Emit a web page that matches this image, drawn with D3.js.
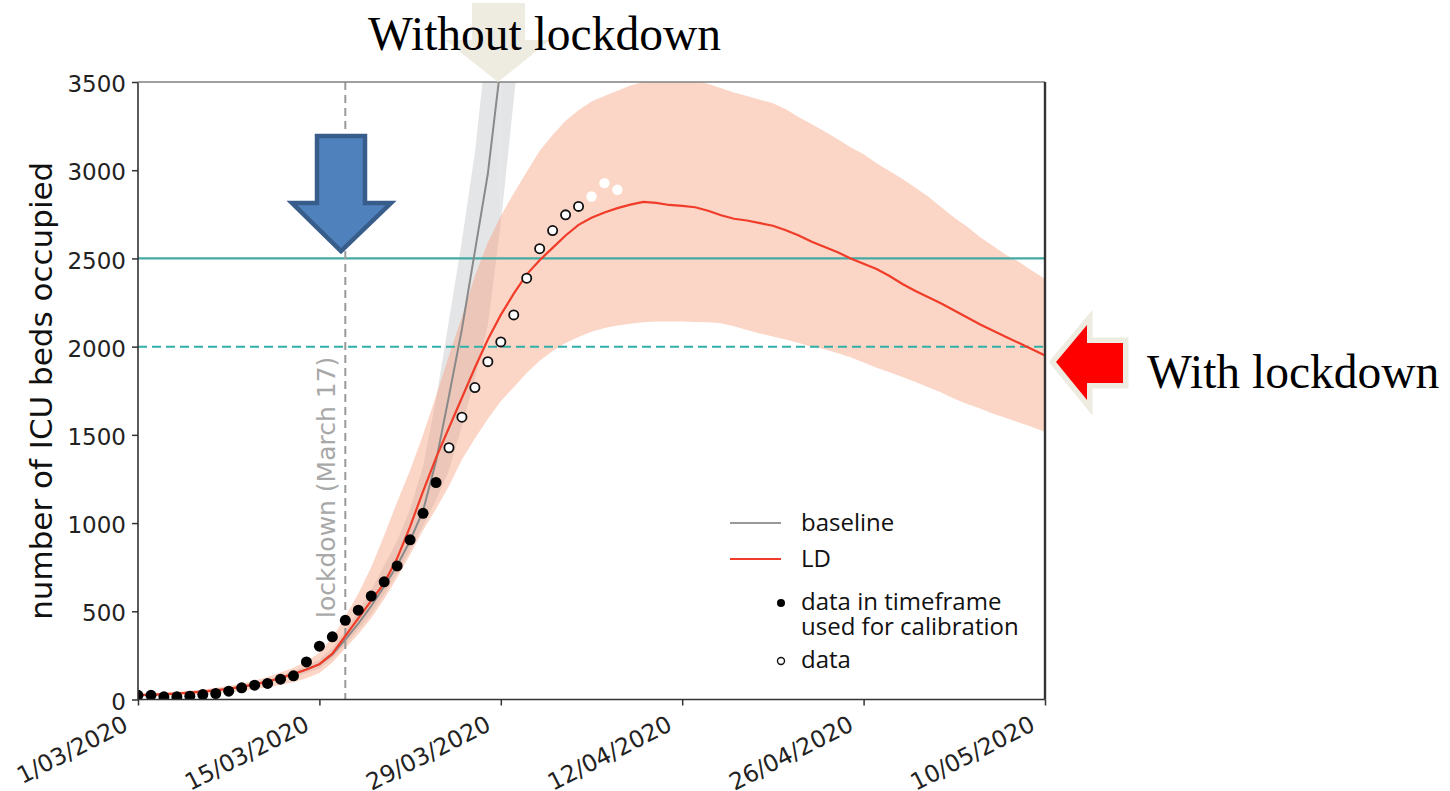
<!DOCTYPE html>
<html>
<head>
<meta charset="utf-8">
<script src="https://cdn.jsdelivr.net/npm/d3@7"></script>
<style>
  html, body { margin: 0; padding: 0; background: #fff; }
  svg { display: block; }
</style>
</head>
<body>
<svg id="chart" width="1450" height="791"></svg>
<script>
// ---------------- DATA ----------------
const startDate = new Date(2020, 2, 1); // 1 March 2020, day index 0
const endDate = new Date(2020, 4, 10);
const xTickLabels = ["1/03/2020", "15/03/2020", "29/03/2020", "12/04/2020", "26/04/2020", "10/05/2020"];
const yTicks = [0, 500, 1000, 1500, 2000, 2500, 3000, 3500];

// LD model (red line), days 0..70
const ldMean = [25, 27, 30, 34, 39, 45, 52, 61, 72, 86, 102, 122, 145, 170, 200, 260, 360, 460, 560, 660,
  800, 980, 1180, 1370, 1540, 1710, 1880, 2040, 2180, 2300, 2410, 2490, 2560, 2630, 2690, 2730, 2760, 2785, 2805, 2820,
  2815, 2803, 2798, 2790, 2770, 2745, 2725, 2715, 2700, 2685, 2660, 2630, 2595, 2565, 2535, 2500, 2470, 2440, 2400, 2355,
  2315, 2280, 2245, 2205, 2165, 2125, 2090, 2055, 2020, 1985, 1950];
const ldUpper = [32, 35, 39, 44, 50, 57, 66, 77, 90, 107, 128, 153, 180, 215, 265, 350, 470, 600, 750, 930,
  1120, 1300, 1500, 1720, 1950, 2170, 2400, 2590, 2740, 2870, 2990, 3110, 3200, 3280, 3340, 3390, 3420, 3450, 3480, 3500,
  3510, 3515, 3515, 3505, 3490, 3465, 3440, 3420, 3400, 3380, 3345, 3300, 3260, 3220, 3175, 3130, 3090, 3040, 2995, 2950,
  2900, 2850, 2790, 2730, 2680, 2620, 2570, 2520, 2480, 2430, 2385];
const ldLower = [15, 17, 19, 22, 26, 30, 35, 41, 49, 58, 70, 83, 98, 120, 150, 210, 290, 370, 460, 570,
  690, 820, 960, 1080, 1210, 1360, 1480, 1590, 1690, 1770, 1850, 1920, 1975, 2020, 2055, 2085, 2105, 2120, 2130, 2138,
  2142, 2143, 2142, 2140, 2138, 2133, 2115, 2095, 2075, 2058, 2040, 2020, 2000, 1985, 1963, 1940, 1910, 1880, 1855, 1828,
  1800, 1770, 1740, 1705, 1675, 1650, 1620, 1595, 1570, 1545, 1518];

// Baseline model (grey line), days 0..28
const baseMean = [25, 27, 30, 34, 39, 45, 52, 61, 72, 86, 102, 122, 145, 170, 200, 255, 340, 430, 530, 640,
  760, 900, 1070, 1350, 1720, 2100, 2540, 2980, 3600];
const baseUpper = [28, 30, 33, 38, 43, 50, 58, 68, 80, 96, 114, 136, 162, 190, 225, 290, 390, 500, 620, 760,
  900, 1080, 1320, 1700, 2150, 2600, 3100, 3780, 4400];
const baseLower = [22, 24, 27, 30, 35, 40, 46, 54, 64, 76, 90, 108, 128, 150, 176, 232, 312, 395, 485, 595,
  715, 845, 985, 1130, 1300, 1550, 1820, 2120, 2700, 3400, 4100];

// Observed data
const calibStartDay = 0;   // filled points: days 0..23
const calibData = [24, 24, 15, 15, 19, 28, 34, 47, 66, 81, 91, 115, 134, 213, 302, 355, 449, 506, 586, 667,
  757, 905, 1055, 1230];
const openStartDay = 24;   // open points: days 24..34
const openData = [1427, 1600, 1768, 1915, 2027, 2180, 2388, 2555, 2658, 2747, 2795];
const whiteStartDay = 35;  // white points: days 35..37
const whiteData = [2851, 2927, 2889];

const lockdownDate = new Date(2020, 2, 17);
const capacityLines = [2500, 2000];

// ---------------- CHART ----------------
const svg = d3.select("#chart");
const L = 138, R = 1045, T = 82, B = 699.5;
const day = i => d3.timeDay.offset(startDate, i);

const x = d3.scaleTime().domain([startDate, endDate]).range([L, R]);
const y = d3.scaleLinear().domain([0, 3500]).range([B, T]);

svg.append("rect").attr("width", 1450).attr("height", 791).attr("fill", "#fff");

svg.append("clipPath").attr("id", "plotclip")
  .append("rect").attr("x", L).attr("y", T).attr("width", R - L).attr("height", B - T);

const plot = svg.append("g").attr("clip-path", "url(#plotclip)");

// baseline band
const baseBand = baseUpper.map((hi, i) => ({ i, lo: baseLower[i], hi }));
plot.append("path")
  .datum(baseBand)
  .attr("fill", "#e4e5e7")
  .attr("d", d3.area().x(d => x(day(d.i))).y0(d => y(d.lo)).y1(d => y(d.hi)));
// right edge of baseline band (lower bound continues above the plot)
plot.append("path")
  .datum(baseLower.map((v, i) => ({ i, v })).slice(baseUpper.length - 1))
  .attr("fill", "#e4e5e7")
  .attr("d", d3.area().x(d => x(day(d.i))).y0(d => y(d.v)).y1(() => y(5000)));

// LD band
plot.append("path")
  .datum(ldMean.map((m, i) => ({ i, lo: ldLower[i], hi: ldUpper[i] })))
  .attr("fill", "rgb(246,162,128)")
  .attr("fill-opacity", 0.45)
  .attr("d", d3.area().x(d => x(day(d.i))).y0(d => y(d.lo)).y1(d => y(d.hi)));

// capacity lines
plot.append("line")
  .attr("x1", L).attr("x2", R).attr("y1", y(capacityLines[0])).attr("y2", y(capacityLines[0]))
  .attr("stroke", "#45aaa4").attr("stroke-width", 2.2);
plot.append("line")
  .attr("x1", L).attr("x2", R).attr("y1", y(capacityLines[1])).attr("y2", y(capacityLines[1]))
  .attr("stroke", "#2fb0a8").attr("stroke-width", 2).attr("stroke-dasharray", "9,5");

// lockdown line
plot.append("line")
  .attr("x1", x(lockdownDate)).attr("x2", x(lockdownDate)).attr("y1", T).attr("y2", B)
  .attr("stroke", "#9a9a9a").attr("stroke-width", 2).attr("stroke-dasharray", "8,5");

// baseline line
plot.append("path")
  .datum(baseMean)
  .attr("fill", "none").attr("stroke", "#8a8a8a").attr("stroke-width", 2)
  .attr("d", d3.line().x((d, i) => x(day(i))).y(d => y(d)));

// LD line
plot.append("path")
  .datum(ldMean)
  .attr("fill", "none").attr("stroke", "#f03c28").attr("stroke-width", 2.2)
  .attr("d", d3.line().x((d, i) => x(day(i))).y(d => y(d)));

// data points
plot.selectAll(".calib").data(calibData).enter().append("circle")
  .attr("cx", (d, i) => x(day(calibStartDay + i))).attr("cy", d => y(d))
  .attr("r", 5.5).attr("fill", "#000");
plot.selectAll(".open").data(openData).enter().append("circle")
  .attr("cx", (d, i) => x(day(openStartDay + i))).attr("cy", d => y(d))
  .attr("r", 4.6).attr("fill", "#fff").attr("stroke", "#111").attr("stroke-width", 1.8);
plot.selectAll(".white").data(whiteData).enter().append("circle")
  .attr("cx", (d, i) => x(day(whiteStartDay + i))).attr("cy", d => y(d))
  .attr("r", 5.2).attr("fill", "#fff");

// lockdown label
svg.append("text")
  .attr("transform", `translate(${x(lockdownDate) - 10},618) rotate(-90)`)
  .attr("font-family", "DejaVu Sans").attr("font-size", 25).attr("fill", "#a8a8a8")
  .text("lockdown (March 17)");

// axes
const yAxis = d3.axisLeft(y).tickValues(yTicks).tickSize(6).tickPadding(6).tickFormat(d3.format("d"));
const gy = svg.append("g").attr("transform", `translate(${L},0)`).call(yAxis);
gy.select(".domain").remove();
gy.selectAll(".tick line").attr("stroke", "#333").attr("stroke-width", 1.5);
gy.selectAll(".tick text").attr("font-family", "DejaVu Sans").attr("font-size", 23).attr("fill", "#222")
  .attr("dy", "0.42em");

const xTickDates = xTickLabels.map(s => d3.timeParse("%d/%m/%Y")(s));
const xAxis = d3.axisBottom(x).tickValues(xTickDates).tickSize(6).tickFormat((d, i) => xTickLabels[i]);
const gx = svg.append("g").attr("transform", `translate(0,${B})`).call(xAxis);
gx.select(".domain").remove();
gx.selectAll(".tick line").attr("stroke", "#333").attr("stroke-width", 1.5);
gx.selectAll(".tick text")
  .attr("font-family", "DejaVu Sans").attr("font-size", 23.5).attr("fill", "#222")
  .attr("text-anchor", "end").attr("y", 0).attr("dy", 0)
  .attr("transform", "translate(-9,30) rotate(-27)");

// spines
svg.append("line").attr("x1", L).attr("x2", L).attr("y1", T).attr("y2", B).attr("stroke", "#333").attr("stroke-width", 1.6);
svg.append("line").attr("x1", L).attr("x2", R).attr("y1", B).attr("y2", B).attr("stroke", "#333").attr("stroke-width", 1.6);
svg.append("line").attr("x1", L).attr("x2", R).attr("y1", T).attr("y2", T).attr("stroke", "#808080").attr("stroke-width", 1.6);
svg.append("line").attr("x1", R).attr("x2", R).attr("y1", T).attr("y2", B).attr("stroke", "#333").attr("stroke-width", 2.4);

// y label
svg.append("text")
  .attr("transform", `translate(52,${(T + B) / 2}) rotate(-90)`)
  .attr("text-anchor", "middle")
  .attr("font-family", "DejaVu Sans").attr("font-size", 31).attr("fill", "#111")
  .text("number of ICU beds occupied");

// legend
const lg = svg.append("g").attr("font-family", "Open Sans").attr("font-size", 24).attr("fill", "#111");
lg.append("line").attr("x1", 730).attr("x2", 781).attr("y1", 523).attr("y2", 523).attr("stroke", "#999").attr("stroke-width", 2);
lg.append("text").attr("x", 801).attr("y", 531).text("baseline");
lg.append("line").attr("x1", 730).attr("x2", 781).attr("y1", 559).attr("y2", 559).attr("stroke", "#f03c28").attr("stroke-width", 2);
lg.append("text").attr("x", 801).attr("y", 567).text("LD");
lg.append("circle").attr("cx", 781).attr("cy", 603).attr("r", 4).attr("fill", "#000");
lg.append("text").attr("x", 801).attr("y", 610).text("data in timeframe");
lg.append("text").attr("x", 801).attr("y", 635).text("used for calibration");
lg.append("circle").attr("cx", 781).attr("cy", 661).attr("r", 3.5).attr("fill", "#fff").attr("stroke", "#111").attr("stroke-width", 1.4);
lg.append("text").attr("x", 801).attr("y", 668).text("data");

// annotations: beige down arrow + "Without lockdown"
svg.append("polygon")
  .attr("points", "472,3 525,3 525,40 550,40 498,82 445,40 472,40")
  .attr("fill", "#eeebe0");
svg.append("text").attr("x", 368).attr("y", 50)
  .attr("font-family", "Liberation Serif").attr("font-size", 47.5).attr("fill", "#000")
  .text("Without lockdown");

// blue down arrow
svg.append("polygon")
  .attr("points", "317,136 365,136 365,203 391,203 341,251 292,203 317,203")
  .attr("fill", "#4f81bd").attr("stroke", "#385d8a").attr("stroke-width", 4.5).attr("stroke-linejoin", "miter");

// red left arrow
const redPts = "1056,362 1087,325 1087,343 1123,343 1123,383 1087,383 1087,400";
svg.append("polygon").attr("points", redPts).attr("fill", "#eeebe0")
  .attr("stroke", "#eeebe0").attr("stroke-width", 11).attr("stroke-linejoin", "miter");
svg.append("polygon").attr("points", redPts).attr("fill", "#ff0000");
svg.append("text").attr("x", 1147).attr("y", 388)
  .attr("font-family", "Liberation Serif").attr("font-size", 47.5).attr("fill", "#000")
  .text("With lockdown");
</script>
</body>
</html>
